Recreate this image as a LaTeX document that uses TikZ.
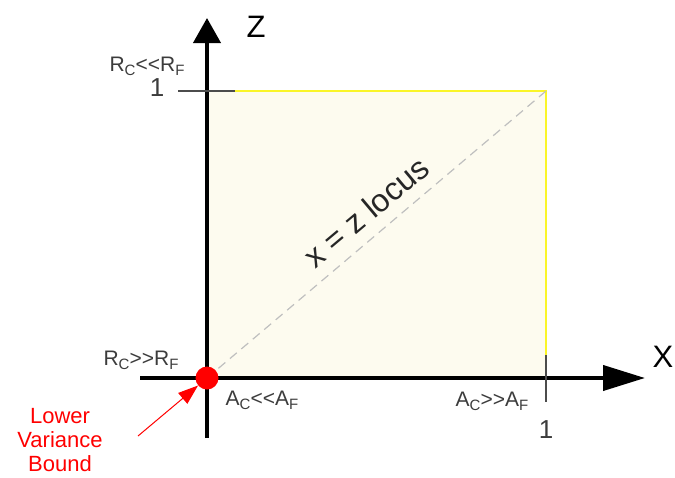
\documentclass[tikz,border=0pt]{standalone}
\usepackage{fontspec}
\setmainfont{Liberation Sans}
\usetikzlibrary{arrows.meta}
\definecolor{cream}{RGB}{253,251,239}
\definecolor{edgeyel}{RGB}{250,245,40}
\definecolor{lblgray}{RGB}{60,60,60}
\newcommand{\lessless}{<\kern0pt<}
\newcommand{\moremore}{>\kern0pt>}
\newcommand{\lowsub}[1]{\raisebox{-0.35ex}{\fontsize{15}{15}\selectfont #1}}

\begin{document}
\begin{tikzpicture}[x=1pt,y=-1pt,>=Triangle,
lbl/.style={font=\fontsize{21}{22}\selectfont,text=lblgray,inner sep=0pt},
num/.style={font=\fontsize{26}{27}\selectfont,text=lblgray,inner sep=0pt},
axname/.style={font=\fontsize{31}{32}\selectfont,inner sep=0pt},
axisline/.style={line width=4pt},
tick/.style={line width=1.6pt,draw=black!70}]
\useasboundingbox (0,0) rectangle (675,477);
\coordinate (o) at (207,378);
\coordinate (xend) at (546,378);
\coordinate (zend) at (207,91);
\coordinate (corner) at (546,91);
% unit square
\fill[cream] (o) rectangle (corner);
\draw[edgeyel,line width=1.6pt] (zend) -- (corner) -- (xend);
\draw[edgeyel!60!black,line width=1.2pt] (o) -- (xend);
\draw[dashed,black!25,line width=1.2pt,dash pattern=on 9pt off 6pt] (o) -- (corner);
% axes
\draw[axisline,-{Triangle[length=42pt,width=25pt]}] (140,378) -- (645,378);
\draw[axisline,-{Triangle[length=25pt,width=27pt]}] (207,438) -- (207,18);
\draw[tick] (178,91) -- (235,91);
\draw[tick] (546,355) -- (546,402);
% labels
\node[axname] (xlab) at (663,357) {X};
\node[axname] (zlab) at (256,27) {Z};
\node[lbl] (rcsmall) at (147,66) {R\lowsub{C}\lessless R\lowsub{F}};
\node[num] (zone) at (157,88) {1};
\node[lbl] (rcbig) at (141,360) {R\lowsub{C}\moremore R\lowsub{F}};
\node[lbl] (acsmall) at (262,400) {A\lowsub{C}\lessless A\lowsub{F}};
\node[lbl] (acbig) at (492,401) {A\lowsub{C}\moremore A\lowsub{F}};
\node[num] (xone) at (546,430) {1};
\node[font=\fontsize{32}{33}\selectfont,rotate=40,text=black!85] (locus) at (366,212) {x = z locus};
% lower variance bound
\node[circle,fill=red,minimum size=23pt,inner sep=0pt] (dot) at (o) {};
\node[align=center,text=red,font=\fontsize{22}{24}\selectfont] (bound) at (60,440) {Lower\\Variance\\Bound};
\coordinate (tail) at (138,436);
\draw[red,line width=1pt,-{Triangle[length=20pt,width=14pt]}] (tail) -- (dot);
\end{tikzpicture}
\end{document}
